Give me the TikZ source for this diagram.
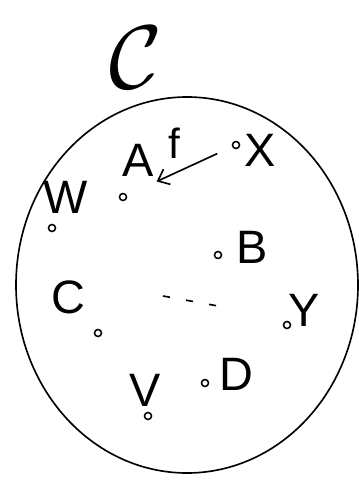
\documentclass[tikz,border=0pt]{standalone}
\usepackage{fontspec}
\setsansfont{Liberation Sans}
\usetikzlibrary{arrows.meta}

\begin{document}
\begin{tikzpicture}[
  x=0.03cm, y=-0.03cm,
  font=\sffamily,
  obj/.style={circle, draw, line width=1.3pt, inner sep=0pt, minimum size=6pt},
  lbl/.style={inner sep=0pt, font=\sffamily\fontsize{40}{40}\selectfont},
  arr/.style={-{Straight Barb[length=3mm, width=5mm]}, line width=1.4pt}
]
\useasboundingbox (0,0) rectangle (358,484);

% the category
\node[inner sep=0pt, scale=3.1, font=\Huge] (cat) at (136,58) {$\mathcal{C}$};
\draw[line width=1.4pt] (187,285) ellipse [x radius=171, y radius=188];

% objects
\node[obj] (a) at (123,197) {};
\node[lbl] (la) at (138,160) {A};
\node[obj] (x) at (236,145) {};
\node[lbl] (lx) at (260,150) {X};
\node[obj] (w) at (52,228) {};
\node[lbl] (lw) at (66,197) {W};
\node[obj] (b) at (218,255) {};
\node[lbl] (lb) at (252,247) {B};
\node[obj] (c) at (98,333) {};
\node[lbl] (lc) at (68,297) {C};
\node[obj] (y) at (287,325) {};
\node[lbl] (ly) at (304,310) {Y};
\node[obj] (v) at (148,416) {};
\node[lbl] (lv) at (145,390) {V};
\node[obj] (d) at (205,383) {};
\node[lbl] (ld) at (236,374) {D};

% the arrow f
\draw[arr, shorten <=14pt, shorten >=28pt] (x) -- node[pos=0.55, above=12pt, inner sep=0pt,
  font=\sffamily\fontsize{36}{36}\selectfont] (lf) {f} (a);

% loose marks
\draw[line width=1.4pt, dash pattern=on 6pt off 14pt] (163,296) -- (218,306);
\end{tikzpicture}
\end{document}
